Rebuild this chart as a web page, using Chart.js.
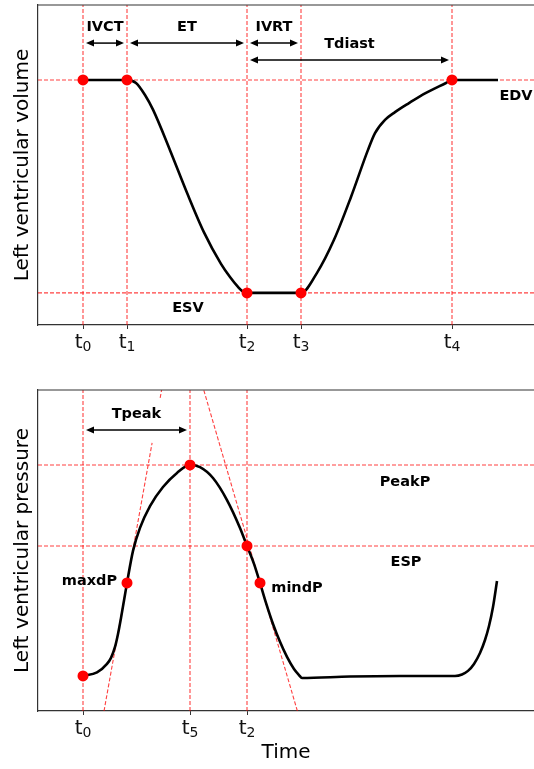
<!DOCTYPE html>
<html>
<head>
<meta charset="utf-8">
<title>LV volume and pressure</title>
<script src="https://cdn.jsdelivr.net/npm/chart.js@4.4.1/dist/chart.umd.min.js"></script>
<style>
  html, body { margin: 0; padding: 0; background: #ffffff; overflow: hidden; }
  canvas { position: absolute; left: 0; }
  #volumeChart { top: 0; }
  #pressureChart { top: 370px; }
</style>
</head>
<body>
<canvas id="volumeChart" width="534" height="370"></canvas>
<canvas id="pressureChart" width="534" height="399"></canvas>
<script>
// time axis in ms, t0 = 0
const timeMin = -90;
const timeMax = 902;

// volume panel (mL)
const volMin = 38.3;
const volMax = 145;
const edv = 120;
const esv = 49;
const volEventT = [0, 88, 328, 436, 738];
const volEventV = [edv, edv, esv, esv, edv];
const volTickLabels = ['t_0', 't_1', 't_2', 't_3', 't_4'];
const volCurveT = [0, 88, 106, 124, 140, 174, 208, 242, 276, 294, 310, 318, 328, 436, 468, 502, 536, 570, 584, 604, 624, 652, 686, 726, 738, 830];
const volCurveV = [120, 120, 119, 115, 110.1, 96.6, 82.4, 69.2, 58.7, 54.3, 51, 49.7, 49, 49, 55.7, 66.7, 81, 96.7, 102.3, 106.7, 109.3, 112.3, 115.7, 119, 120, 120];
const volSpanNames = ['IVCT', 'ET', 'IVRT', 'Tdiast'];
const volSpanStart = [0, 88, 328, 328];
const volSpanEnd = [88, 328, 436, 738];
const volSpanLevel = [132.3, 132.3, 132.3, 126.7];

// pressure panel (mmHg)
const presMin = -10.6;
const presMax = 159.8;
const peakP = 120;
const esp = 77;
const presEventT = [0, 214, 328];
const presTickLabels = ['t_0', 't_5', 't_2'];
const presMarkT = [0, 88, 214, 328, 354];
const presMarkP = [8, 57.4, peakP, esp, 57.4];
const presCurveT = [0, 28, 48, 56, 64, 70, 76, 88, 100, 114, 134, 160, 188, 214, 234, 260, 288, 314, 328, 342, 354, 366, 380, 394, 408, 422, 432, 438, 534, 634, 744, 758, 770, 782, 794, 804, 812, 820, 828];
const presCurveP = [8, 9.9, 14.4, 17.6, 23.4, 30.3, 38.8, 57.4, 74.4, 86.6, 98.2, 108.3, 115.8, 120, 118.9, 113.1, 101.4, 86.6, 77, 67.5, 57.4, 46.8, 35.6, 26.1, 18.1, 11.7, 8.5, 6.9, 7.7, 8, 8, 8.8, 10.7, 14.4, 20.2, 27.1, 34.5, 44.6, 58.4];
const presSpanNames = ['Tpeak'];
const presSpanStart = [0];
const presSpanEnd = [214];
const presSpanLevel = [138.6];
// tangents through maxdP and mindP, slope in mmHg/ms
const tangentT = [88, 354];
const tangentP = [57.4, 57.4];
const tangentSlope = [1.48, -0.91];

const red = 'rgba(255, 0, 0, 0.75)';
const spine = '#333333';

const toXY = (xs, ys) => xs.map((x, i) => ({ x: x, y: ys[i] }));

function dashed(points) {
    return {
        type: 'line',
        data: points,
        borderColor: red,
        borderWidth: 1.1,
        borderDash: [4, 2],
        pointRadius: 0,
        tension: 0,
        order: 3
    };
}

// vertical guides at event times, horizontal guides at levels
function guides(times, levels, yMin, yMax) {
    const sets = times.map(t => dashed([{ x: t, y: yMin }, { x: t, y: yMax }]));
    levels.forEach(v => sets.push(dashed([{ x: timeMin, y: v }, { x: timeMax, y: v }])));
    return sets;
}

function tangent(t0, p0, slope, gap) {
    const at = p => ({ x: t0 + (p - p0) / slope, y: p });
    if (!gap) return dashed([at(presMin), at(presMax)]);
    return dashed([at(presMin), at(gap[0]), { x: t0, y: null }, at(gap[1]), at(presMax)]);
}

function curve(points) {
    return {
        type: 'line',
        data: points,
        borderColor: '#000000',
        borderWidth: 2.6,
        pointRadius: 0,
        cubicInterpolationMode: 'monotone',
        order: 2
    };
}

function marks(points) {
    return {
        type: 'scatter',
        data: points,
        backgroundColor: '#ff0000',
        borderWidth: 0,
        pointRadius: 5.5,
        order: 1
    };
}

function drawArrow(ctx, x1, x2, y) {
    const head = 8, half = 3.5;
    ctx.lineWidth = 1.5;
    ctx.beginPath();
    ctx.moveTo(x1 + head - 1, y);
    ctx.lineTo(x2 - head + 1, y);
    ctx.stroke();
    ctx.beginPath();
    ctx.moveTo(x1, y);
    ctx.lineTo(x1 + head, y - half);
    ctx.lineTo(x1 + head, y + half);
    ctx.closePath();
    ctx.moveTo(x2, y);
    ctx.lineTo(x2 - head, y - half);
    ctx.lineTo(x2 - head, y + half);
    ctx.closePath();
    ctx.fill();
}

// top spine, span arrows, bold labels and subscripted time ticks
function decorations(cfg) {
    return {
        id: 'decorations',
        afterDatasetsDraw(chart) {
            const { ctx, chartArea: area, scales: { x, y } } = chart;
            ctx.save();
            ctx.strokeStyle = spine;
            ctx.lineWidth = 1.2;
            ctx.beginPath();
            ctx.moveTo(area.left, area.top);
            ctx.lineTo(area.right, area.top);
            ctx.stroke();

            ctx.fillStyle = '#000000';
            ctx.strokeStyle = '#000000';
            ctx.font = 'bold 14.5px "DejaVu Sans"';
            ctx.textAlign = 'center';
            ctx.textBaseline = 'alphabetic';
            cfg.spanNames.forEach((name, i) => {
                const x1 = x.getPixelForValue(cfg.spanStart[i]) + 3;
                const x2 = x.getPixelForValue(cfg.spanEnd[i]) - 3;
                const yy = y.getPixelForValue(cfg.spanLevel[i]);
                drawArrow(ctx, x1, x2, yy);
                ctx.fillText(name, (x1 + x2) / 2, yy - 12);
            });
            cfg.labels.forEach(l => {
                ctx.fillText(l.text, x.getPixelForValue(l.t), y.getPixelForValue(l.v));
            });
            ctx.restore();
        },
        afterDraw(chart) {
            const { ctx, chartArea: area, scales: { x } } = chart;
            const base = area.bottom + 22.5;
            ctx.save();
            ctx.fillStyle = '#111111';
            ctx.textAlign = 'left';
            ctx.textBaseline = 'alphabetic';
            cfg.tickLabels.forEach((label, i) => {
                const [main, sub] = label.split('_');
                ctx.font = '20px "DejaVu Sans"';
                const w1 = ctx.measureText(main).width;
                ctx.font = '14px "DejaVu Sans"';
                const w2 = ctx.measureText(sub).width;
                const left = x.getPixelForValue(cfg.tickValues[i]) - (w1 + w2) / 2;
                ctx.font = '20px "DejaVu Sans"';
                ctx.fillText(main, left, base);
                ctx.font = '14px "DejaVu Sans"';
                ctx.fillText(sub, left + w1, base + 3.5);
            });
            ctx.restore();
        }
    };
}

function panel(canvasId, cfg) {
    const ctx = document.getElementById(canvasId).getContext('2d');
    return new Chart(ctx, {
        type: 'line',
        data: { datasets: cfg.datasets },
        options: {
            responsive: false,
            animation: false,
            events: [],
            layout: {
                autoPadding: false,
                padding: { top: cfg.padTop, left: 0, right: 0, bottom: 0 }
            },
            plugins: {
                legend: { display: false },
                tooltip: { enabled: false }
            },
            scales: {
                x: {
                    type: 'linear',
                    min: timeMin,
                    max: timeMax,
                    afterBuildTicks: scale => { scale.ticks = cfg.tickValues.map(v => ({ value: v })); },
                    afterFit: scale => { scale.height = cfg.xHeight; },
                    ticks: { display: false },
                    grid: { drawOnChartArea: false, drawTicks: true, tickLength: 4, tickColor: spine },
                    border: { display: true, color: spine, width: 1.2 },
                    title: {
                        display: !!cfg.xTitle,
                        text: cfg.xTitle || '',
                        color: '#000000',
                        font: { family: 'DejaVu Sans', size: 20 }
                    }
                },
                y: {
                    type: 'linear',
                    min: cfg.yMin,
                    max: cfg.yMax,
                    afterFit: scale => { scale.width = 38; },
                    ticks: { display: false },
                    grid: { display: false },
                    border: { display: true, color: spine, width: 1.2 },
                    title: {
                        display: true,
                        text: cfg.yTitle,
                        color: '#000000',
                        padding: { top: 11, bottom: 0 },
                        font: { family: 'DejaVu Sans', size: 20 }
                    }
                }
            }
        },
        plugins: [decorations(cfg)]
    });
}

panel('volumeChart', {
    padTop: 5,
    xHeight: 45,
    yMin: volMin,
    yMax: volMax,
    yTitle: 'Left ventricular volume',
    tickValues: volEventT,
    tickLabels: volTickLabels,
    spanNames: volSpanNames,
    spanStart: volSpanStart,
    spanEnd: volSpanEnd,
    spanLevel: volSpanLevel,
    labels: [
        { text: 'EDV', t: 866, v: 113.3 },
        { text: 'ESV', t: 210, v: 42.7 }
    ],
    datasets: [
        marks(toXY(volEventT, volEventV)),
        curve(toXY(volCurveT, volCurveV)),
        ...guides(volEventT, [edv, esv], volMin, volMax)
    ]
});

panel('pressureChart', {
    padTop: 20,
    xHeight: 58,
    yMin: presMin,
    yMax: presMax,
    yTitle: 'Left ventricular pressure',
    xTitle: 'Time',
    tickValues: presEventT,
    tickLabels: presTickLabels,
    spanNames: presSpanNames,
    spanStart: presSpanStart,
    spanEnd: presSpanEnd,
    spanLevel: presSpanLevel,
    labels: [
        { text: 'PeakP', t: 644, v: 108.9 },
        { text: 'ESP', t: 646, v: 66.4 },
        { text: 'maxdP', t: 13, v: 56.3 },
        { text: 'mindP', t: 428, v: 52.6 }
    ],
    datasets: [
        marks(toXY(presMarkT, presMarkP)),
        curve(toXY(presCurveT, presCurveP)),
        ...guides(presEventT, [peakP, esp], presMin, presMax),
        tangent(tangentT[0], tangentP[0], tangentSlope[0], [131.7, 155.6]),
        tangent(tangentT[1], tangentP[1], tangentSlope[1])
    ]
});
</script>
</body>
</html>
